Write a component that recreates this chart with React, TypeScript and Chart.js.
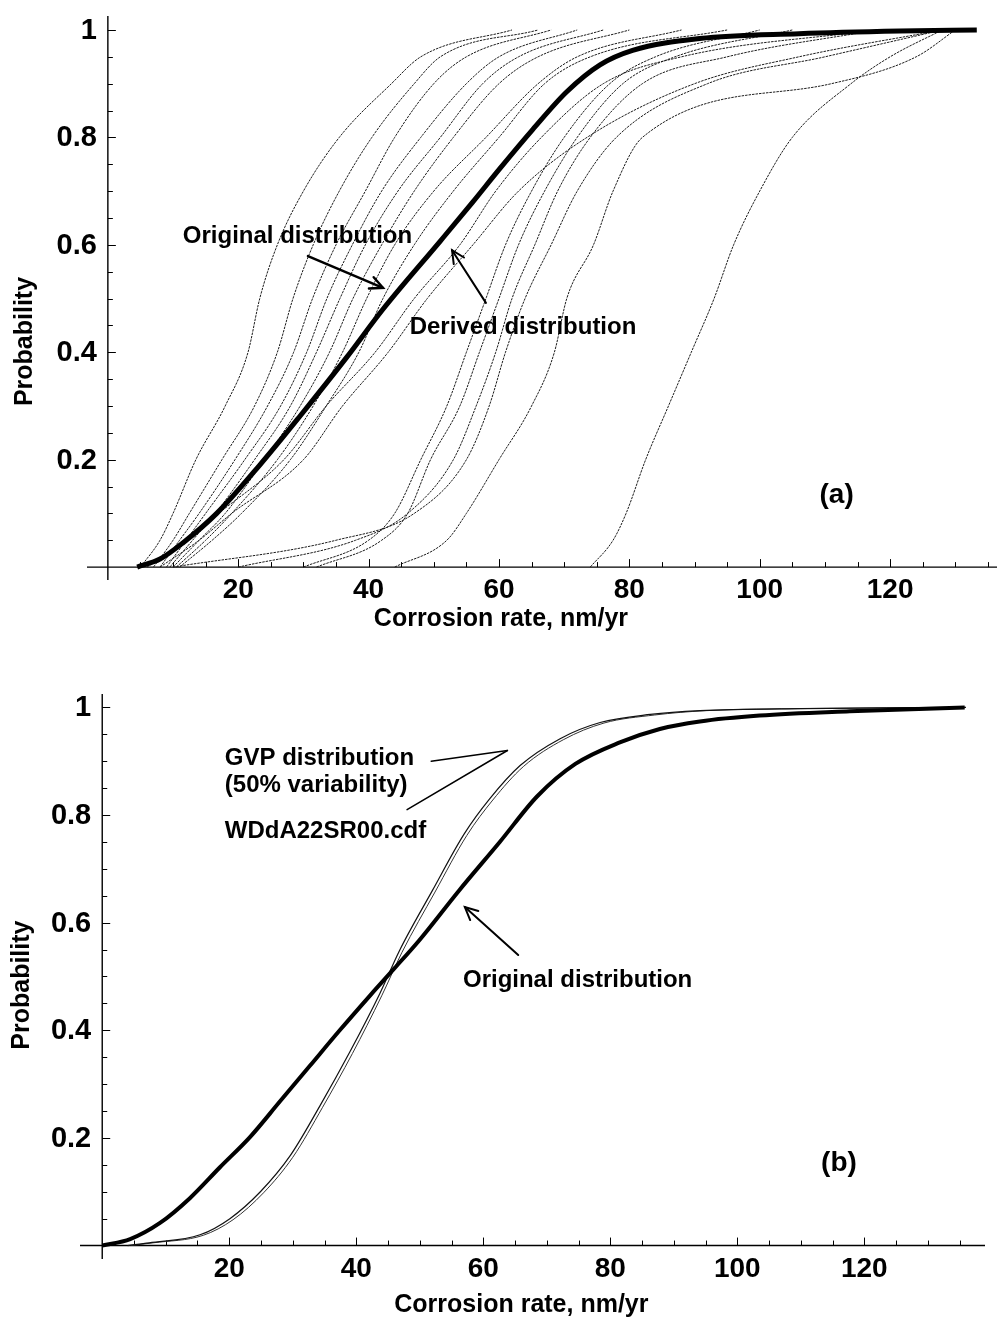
import React, { useEffect, useRef } from "react";
import { Chart, registerables } from "chart.js";

Chart.register(...registerables);

const FONT = '"Liberation Sans", Arial, Helvetica, sans-serif';

// Probability levels at which each simulated realisation is tabulated
const probLevels = [0, 0.05, 0.1, 0.2, 0.3, 0.4, 0.5, 0.6, 0.7, 0.8, 0.9, 0.95, 1];

// Panel (a): corrosion rate (nm/yr) of each realisation at the probability levels above
const realisationL1 = [5, 8, 10, 13.5, 18, 21.5, 23.3, 26, 30, 35.5, 43.5, 48, 62];
const realisationL2 = [7, 10, 12.5, 17.5, 22.5, 26, 28.4, 31.5, 35.5, 40.5, 47, 51, 66];
const realisationL3 = [8, 11, 14, 19.5, 24.5, 28.5, 31.4, 35, 39.5, 44, 50, 55, 68];
const realisationL4 = [9, 12, 15, 21, 26.5, 30.5, 33.6, 37.5, 42, 48, 55, 60, 72];
const realisationL5 = [9.5, 13, 16.5, 22.5, 28, 32, 35.6, 39.5, 44.5, 51, 57.5, 63, 76];
const realisationL6 = [10, 14, 18, 24, 29.5, 34, 37.6, 42, 47, 53, 60, 66, 80];
const realisationL7 = [10.5, 15, 19, 26, 31.5, 36, 39.7, 44, 50, 58, 66, 72, 88];
const realisationL8 = [11, 16, 20.5, 28, 33.5, 38.5, 42.2, 47, 53, 60, 67, 74, 95];
const realisationR1 = [6, 12, 17, 27, 33.5, 41, 47, 54, 59.5, 66.5, 76, 88, 118];
const realisationR2 = [8, 14, 19, 30, 36, 43, 49, 56, 63, 73.5, 90, 106, 128];
const realisationR3 = [30, 40, 44, 48, 52, 55, 58, 61, 65, 70, 77, 84, 100];
const realisationR4 = [32, 42, 46, 49.5, 54, 57, 60, 63, 67, 72, 79, 87, 105];
const realisationR5 = [20, 38, 46, 53, 56.5, 59.5, 62, 65.5, 69, 74, 82, 95, 118];
const realisationR6 = [10, 35, 47, 55, 58.5, 61, 64, 68, 72, 78, 92, 110, 128];
const realisationR7 = [44, 52, 55, 60, 65, 68.5, 70.4, 74.5, 77.5, 82, 111, 124, 130];
const realisationR8 = [74, 77.5, 79.5, 82.5, 86, 89.5, 93, 96, 100, 105, 114, 120, 128];

const realisationsA = [
  realisationL1, realisationL2, realisationL3, realisationL4,
  realisationL5, realisationL6, realisationL7, realisationL8,
  realisationR1, realisationR2, realisationR3, realisationR4,
  realisationR5, realisationR6, realisationR7, realisationR8,
];

// Panel (a): aggregate distribution (heavy curve)
const aggregateRateA = [4.5, 8, 11.5, 16.7, 23.3, 29.4, 36.6, 42.2, 51, 56, 60, 65.2, 70.4, 75.5, 80.5, 90.8, 106, 121.5, 133.3];
const aggregateProbA = [0, 0.015, 0.045, 0.1, 0.19, 0.28, 0.39, 0.48, 0.607, 0.68, 0.74, 0.815, 0.885, 0.935, 0.962, 0.984, 0.993, 0.998, 1.0];

// Panel (b): original distribution (heavy curve)
const originalRateB = [0, 4.4, 9.1, 13.8, 18.5, 23.3, 28, 32.7, 37.4, 42.2, 46, 49.9, 56.2, 62.6, 68.5, 74.5, 81.5, 87.8, 94.1, 103.5, 117.7, 135.8];
const originalProbB = [0, 0.012, 0.042, 0.088, 0.145, 0.202, 0.268, 0.334, 0.4, 0.465, 0.515, 0.567, 0.66, 0.75, 0.835, 0.895, 0.935, 0.96, 0.974, 0.985, 0.993, 1.0];

// Panel (b): GVP distribution (50% variability)
const gvpRateB = [4, 7.4, 15.4, 20.1, 24.9, 29.6, 34.3, 39, 43.7, 46.8, 52, 57, 61, 65.8, 72.1, 78.4, 86.3, 94.1, 110, 136];
const gvpProbB = [0, 0.005, 0.02, 0.05, 0.1, 0.167, 0.26, 0.36, 0.468, 0.548, 0.66, 0.765, 0.83, 0.892, 0.942, 0.972, 0.987, 0.994, 0.998, 1.0];

// Panel (b): WDdA22SR00.cdf
const cdfFileRateB = [4.5, 8, 15.9, 20.6, 25.4, 30, 34.7, 39.4, 44, 47.2, 52.4, 57.4, 61.5, 66.3, 72.6, 79, 87, 95, 111, 136];
const cdfFileProbB = [0, 0.005, 0.019, 0.048, 0.098, 0.164, 0.257, 0.357, 0.464, 0.545, 0.657, 0.762, 0.828, 0.89, 0.94, 0.971, 0.986, 0.994, 0.998, 1.0];

// Axis ticks
const xTickValues = [20, 40, 60, 80, 100, 120];
const xTickLabels = ["20", "40", "60", "80", "100", "120"];
const yTickValues = [0.2, 0.4, 0.6, 0.8, 1];
const yTickLabels = ["0.2", "0.4", "0.6", "0.8", "1"];

type Note = { text: string; x: number; y: number; size: number; align?: CanvasTextAlign };
type Arrow = { from: [number, number]; to: [number, number]; width: number; head: boolean };
type PanelConfig = {
  top: number;
  height: number;
  padding: { left: number; right: number; top: number; bottom: number };
  xRange: [number, number];
  yRange: [number, number];
  xLabelOffset: number;
  xTitleX: number;
  xTitleOffset: number;
  yTitleX: number;
  yTitleY: number;
  notes: Note[];
  arrows: Arrow[];
  datasets: any[];
};

const toPoints = (xs: number[], ps: number[]) => xs.map((x, i) => ({ x, y: ps[i] }));

const thinLine = (xs: number[], ps: number[]) => ({
  data: toPoints(xs, ps),
  borderColor: "#1c1c1c",
  borderWidth: 1,
  borderDash: [2.5, 1],
  pointRadius: 0,
  cubicInterpolationMode: "monotone",
});

const panelA: PanelConfig = {
  top: 0,
  height: 650,
  padding: { left: 87, right: 0, top: 16, bottom: 70 },
  xRange: [-3.2, 136.4],
  yRange: [-0.024, 1.026],
  xLabelOffset: 23,
  xTitleX: 60.3,
  xTitleOffset: 52,
  yTitleX: 25,
  yTitleY: 0.42,
  notes: [
    { text: "Original distribution", x: 11.5, y: 0.615, size: 24 },
    { text: "Derived distribution", x: 46.3, y: 0.447, size: 24 },
    { text: "(a)", x: 111.8, y: 0.134, size: 28, align: "center" },
  ],
  arrows: [
    { from: [30.7, 0.579], to: [42.2, 0.52], width: 2.5, head: true },
    { from: [58, 0.492], to: [52.8, 0.59], width: 2, head: true },
  ],
  datasets: [
    {
      data: toPoints(aggregateRateA, aggregateProbA),
      borderColor: "#000",
      borderWidth: 5,
      pointRadius: 0,
      cubicInterpolationMode: "monotone",
    },
    ...realisationsA.map((xs) => thinLine(xs, probLevels)),
  ],
};

const panelB: PanelConfig = {
  top: 650,
  height: 681,
  padding: { left: 80, right: 12, top: 44, bottom: 72 },
  xRange: [-3.5, 139],
  yRange: [-0.025, 1.025],
  xLabelOffset: 24,
  xTitleX: 66,
  xTitleOffset: 60,
  yTitleX: 22,
  yTitleY: 0.484,
  notes: [
    { text: "GVP distribution", x: 19.3, y: 0.905, size: 24 },
    { text: "(50% variability)", x: 19.3, y: 0.855, size: 24 },
    { text: "WDdA22SR00.cdf", x: 19.3, y: 0.77, size: 24 },
    { text: "Original distribution", x: 56.8, y: 0.493, size: 24 },
    { text: "(b)", x: 116, y: 0.153, size: 28, align: "center" },
  ],
  arrows: [
    { from: [51.8, 0.9], to: [63.8, 0.92], width: 1.5, head: false },
    { from: [48, 0.81], to: [63.8, 0.92], width: 1.5, head: false },
    { from: [65.5, 0.54], to: [57.1, 0.629], width: 2, head: true },
  ],
  datasets: [
    {
      data: toPoints(originalRateB, originalProbB),
      borderColor: "#000",
      borderWidth: 4,
      pointRadius: 0,
      cubicInterpolationMode: "monotone",
    },
    {
      data: toPoints(gvpRateB, gvpProbB),
      borderColor: "#111",
      borderWidth: 1.2,
      pointRadius: 0,
      cubicInterpolationMode: "monotone",
    },
    {
      data: toPoints(cdfFileRateB, cdfFileProbB),
      borderColor: "#333",
      borderWidth: 1,
      pointRadius: 0,
      cubicInterpolationMode: "monotone",
    },
  ],
};

function makeAxesPlugin(cfg: PanelConfig) {
  return {
    id: "cdfAxes",
    beforeDatasetsDraw(chart: any) {
      const { ctx, chartArea: a } = chart;
      const xs = chart.scales.x;
      const ys = chart.scales.y;
      const ox = xs.getPixelForValue(0);
      const oy = ys.getPixelForValue(0);
      ctx.save();
      ctx.strokeStyle = "#000";
      ctx.lineWidth = 1.4;
      ctx.beginPath();
      ctx.moveTo(a.left, oy);
      ctx.lineTo(a.right, oy);
      ctx.moveTo(ox, a.top);
      ctx.lineTo(ox, a.bottom);
      ctx.stroke();
      ctx.lineWidth = 1;
      ctx.beginPath();
      for (let v = 5; v < xs.max; v += 5) {
        const px = Math.round(xs.getPixelForValue(v)) + 0.5;
        const len = v % 20 === 0 ? 8 : 5;
        ctx.moveTo(px, oy);
        ctx.lineTo(px, oy - len);
      }
      for (let i = 1; i <= 20; i++) {
        const py = Math.round(ys.getPixelForValue(i * 0.05)) + 0.5;
        const len = i % 4 === 0 ? 8 : 5;
        ctx.moveTo(ox, py);
        ctx.lineTo(ox + len, py);
      }
      ctx.stroke();
      ctx.restore();
    },
    afterDatasetsDraw(chart: any) {
      const { ctx } = chart;
      const xs = chart.scales.x;
      const ys = chart.scales.y;
      const ox = xs.getPixelForValue(0);
      const oy = ys.getPixelForValue(0);
      ctx.save();
      ctx.fillStyle = "#000";
      ctx.strokeStyle = "#000";

      // tick labels
      ctx.font = `bold 28px ${FONT}`;
      ctx.textAlign = "center";
      ctx.textBaseline = "middle";
      xTickValues.forEach((v, i) => {
        ctx.fillText(xTickLabels[i], xs.getPixelForValue(v), oy + cfg.xLabelOffset);
      });
      ctx.font = `bold 29px ${FONT}`;
      ctx.textAlign = "right";
      yTickValues.forEach((v, i) => {
        ctx.fillText(yTickLabels[i], ox - 11, ys.getPixelForValue(v) + 1);
      });

      // axis titles
      ctx.font = `bold 25px ${FONT}`;
      ctx.textAlign = "center";
      ctx.fillText("Corrosion rate, nm/yr", xs.getPixelForValue(cfg.xTitleX), oy + cfg.xTitleOffset);
      ctx.save();
      ctx.translate(cfg.yTitleX, ys.getPixelForValue(cfg.yTitleY));
      ctx.rotate(-Math.PI / 2);
      ctx.fillText("Probability", 0, 0);
      ctx.restore();

      // annotations
      cfg.notes.forEach((n) => {
        ctx.font = `bold ${n.size}px ${FONT}`;
        ctx.textAlign = n.align || "left";
        ctx.fillText(n.text, xs.getPixelForValue(n.x), ys.getPixelForValue(n.y));
      });

      cfg.arrows.forEach((ar) => {
        const x1 = xs.getPixelForValue(ar.from[0]);
        const y1 = ys.getPixelForValue(ar.from[1]);
        const x2 = xs.getPixelForValue(ar.to[0]);
        const y2 = ys.getPixelForValue(ar.to[1]);
        ctx.lineWidth = ar.width;
        ctx.lineCap = "round";
        ctx.beginPath();
        ctx.moveTo(x1, y1);
        ctx.lineTo(x2, y2);
        ctx.stroke();
        if (ar.head) {
          const ang = Math.atan2(y2 - y1, x2 - x1);
          const hl = 14;
          ctx.beginPath();
          ctx.moveTo(x2 - hl * Math.cos(ang - 0.45), y2 - hl * Math.sin(ang - 0.45));
          ctx.lineTo(x2, y2);
          ctx.lineTo(x2 - hl * Math.cos(ang + 0.45), y2 - hl * Math.sin(ang + 0.45));
          ctx.stroke();
        }
      });
      ctx.restore();
    },
  };
}

function CdfPanel({ cfg }: { cfg: PanelConfig }) {
  const ref = useRef<HTMLCanvasElement>(null);
  useEffect(() => {
    const chart = new Chart(ref.current as HTMLCanvasElement, {
      type: "line",
      data: { datasets: cfg.datasets },
      options: {
        responsive: false,
        animation: false,
        devicePixelRatio: 1,
        layout: { padding: cfg.padding },
        plugins: { legend: { display: false }, tooltip: { enabled: false } },
        scales: {
          x: { type: "linear", min: cfg.xRange[0], max: cfg.xRange[1], display: false },
          y: { type: "linear", min: cfg.yRange[0], max: cfg.yRange[1], display: false },
        },
      } as any,
      plugins: [makeAxesPlugin(cfg)],
    });
    return () => chart.destroy();
  }, [cfg]);
  return (
    <canvas
      ref={ref}
      width={997}
      height={cfg.height}
      style={{ position: "absolute", left: 0, top: cfg.top, width: 997, height: cfg.height }}
    />
  );
}

export default function App() {
  return (
    <div style={{ position: "absolute", left: 0, top: 0, width: 997, height: 1331, background: "#fff" }}>
      <CdfPanel cfg={panelA} />
      <CdfPanel cfg={panelB} />
    </div>
  );
}
